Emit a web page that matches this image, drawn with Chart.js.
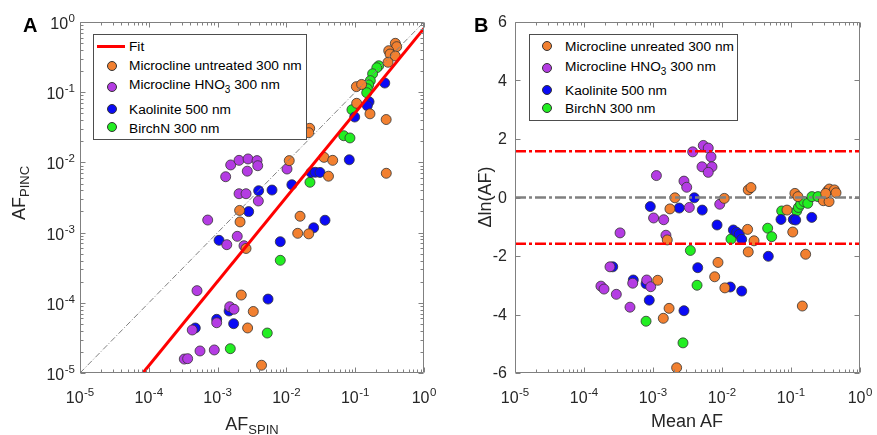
<!DOCTYPE html>
<html>
<head>
<meta charset="utf-8">
<script src="https://cdn.jsdelivr.net/npm/chart.js@4.4.0/dist/chart.umd.min.js"></script>
<style>
  body { margin: 0; width: 877px; height: 435px; background: #fff; overflow: hidden;
         font-family: "Liberation Sans", Arial, sans-serif; }
  canvas { position: absolute; top: 0; }
  #chartA { left: 0; }
  #chartB { left: 440px; }
  .txt { position: absolute; white-space: nowrap; color: #000; }
  .panel { font-weight: bold; font-size: 20px; line-height: 20px; }
  .title { font-size: 18px; line-height: 18px; color: #262626; }
  .title sub { font-size: 13px; line-height: 0; vertical-align: -4px; }
  .tick { position: absolute; white-space: nowrap; font-size: 16px; line-height: 16px; color: #262626; }
  .tick sup { font-size: 11.5px; line-height: 0; vertical-align: 7px; margin-left: 0.5px; }
  .legend { position: absolute; border: 1px solid #4d4d4d; background: #fff; box-sizing: border-box; }
  .legend .row { position: absolute; font-size: 13.7px; line-height: 16px; white-space: nowrap; }
  .legend sub { font-size: 10px; line-height: 0; vertical-align: -4px; }
  .dot { position: absolute; width: 10px; height: 10px; border-radius: 50%; border: 1px solid #333; box-sizing: border-box; }
  .fitline { position: absolute; height: 3px; background: #ff0000; }
</style>
</head>
<body>
<canvas id="chartA" width="440" height="435"></canvas>
<canvas id="chartB" width="437" height="435"></canvas>

<div class="txt panel" style="left:23px;top:15px;">A</div>
<div class="txt panel" style="left:474px;top:15px;">B</div>

<div class="txt title" style="left:252px;top:415px;transform:translateX(-50%);">AF<sub>SPIN</sub></div>
<div class="txt title" style="left:18.5px;top:193px;transform:translate(-50%,-50%) rotate(-90deg);">AF<sub>PINC</sub></div>
<div class="txt title" style="left:687px;top:412px;transform:translateX(-50%);">Mean AF</div>
<div class="txt title" style="left:485px;top:197px;transform:translate(-50%,-50%) rotate(-90deg);">&Delta;ln(AF)</div>

<div id="legendA" class="legend" style="left:93px;top:34px;width:214px;height:106px;"></div>
<div id="legendB" class="legend" style="left:529px;top:34px;width:209px;height:87px;"></div>

<script>
// ---- data ----
const logTicks = [1e-5, 1e-4, 1e-3, 1e-2, 1e-1, 1];
const deltaTicks = [-6, -4, -2, 0, 2, 4, 6];

const labelsA = ['Fit', 'Microcline untreated 300 nm', 'Microcline HNO3 300 nm', 'Kaolinite 500 nm', 'BirchN 300 nm'];
const labelsB = ['Microcline unreated 300 nm', 'Microcline HNO3 300 nm', 'Kaolinite 500 nm', 'BirchN 300 nm'];

// panel A: AF_SPIN vs AF_PINC
const mcUntreatedSpin = [2.09e-3, 2.12e-3, 2.59e-3, 2.21e-3, 3.30e-3, 2.73e-3, 4.35e-3, 1.10e-2, 1.58e-2, 1.46e-2, 2.11e-2, 2.18e-2, 2.11e-2, 3.52e-2, 4.71e-2, 4.09e-2, 0.283, 0.104, 0.124, 0.105, 0.164, 0.282, 0.383, 0.401, 0.307, 0.321, 0.383, 0.300];
const mcUntreatedPinc = [2.07e-3, 1.42e-3, 5.94e-4, 1.29e-4, 7.52e-5, 4.38e-5, 1.29e-5, 1.06e-2, 1.71e-3, 9.77e-4, 9.6e-4, 3.06e-2, 2.65e-2, 1.18e-2, 1.07e-2, 6.36e-3, 7.0e-3, 0.120, 0.129, 6.95e-2, 4.92e-2, 4.08e-2, 0.497, 0.445, 0.390, 0.350, 0.328, 0.267];

const mcHno3Spin = [1.55e-3, 2.05e-3, 2.77e-3, 3.74e-3, 3.83e-3, 2.70e-3, 1.31e-3, 1.02e-2, 2.05e-3, 2.59e-3, 3.91e-3, 7.18e-4, 1.93e-3, 1.36e-3, 2.42e-3, 5.02e-4, 1.50e-3, 1.73e-3, 9.7e-4, 4.28e-4, 5.55e-4, 8.95e-4, 3.28e-4, 3.67e-4];
const mcHno3Pinc = [9.2e-3, 1.07e-2, 1.12e-2, 1.06e-2, 8.97e-3, 7.5e-3, 6.25e-3, 8.05e-3, 3.58e-3, 3.58e-3, 2.82e-3, 1.51e-3, 8.85e-4, 6.73e-4, 6.5e-4, 1.49e-4, 8.8e-5, 8.1e-5, 5.2e-5, 4.1e-5, 2.06e-5, 2.13e-5, 1.58e-5, 1.6e-5];

const kaoSpin = [3.95e-3, 6.18e-3, 1.20e-2, 2.83e-3, 1.05e-3, 8.15e-3, 2.28e-2, 2.63e-2, 3.08e-2, 8.2e-2, 3.64e-2, 2.49e-2, 0.269, 0.159, 0.150, 9.84e-2, 5.41e-3, 1.47e-3, 9.7e-4, 1.71e-3, 4.74e-4];
const kaoPinc = [3.95e-3, 4.04e-3, 4.81e-3, 1.99e-3, 7.76e-4, 7.42e-4, 7.18e-3, 7.23e-3, 7.2e-3, 1.09e-2, 1.50e-3, 1.17e-3, 0.135, 7.32e-2, 6.42e-2, 4.43e-2, 1.13e-4, 7.64e-5, 5.82e-5, 5.04e-5, 4.38e-5];

const birchSpin = [0.220, 0.206, 0.179, 0.166, 0.157, 0.150, 0.147, 8.97e-2, 6.81e-2, 8.39e-2, 2.20e-2, 8.15e-3, 5.27e-3, 1.53e-3];
const birchPinc = [0.238, 0.223, 0.183, 0.146, 0.127, 0.112, 9.84e-2, 5.63e-2, 2.40e-2, 2.23e-2, 5.21e-3, 4.03e-4, 3.71e-5, 2.22e-5];

// fit line and 1:1 line end points
const fitSpin = [8.2e-5, 1];
const fitPinc = [1e-5, 0.81];
const oneToOne = [1e-5, 1];

// panel B: mean AF vs delta ln(AF)
const mcUntreatedMean = [2.08e-3, 1.76e-3, 1.08e-2, 1.61e-3, 1.17e-3, 1.41e-3, 1.71e-3, 2.20e-3, 8.75e-3, 7.83e-3, 1.10e-2, 2.40e-2, 2.63e-2, 0.114, 8.75e-2, 2.35e-2, 2.91e-2, 2.40e-2, 0.106, 0.163, 0.340, 0.359, 0.425, 0.449, 0.294, 0.356, 0.318, 0.126, 0.146];
const mcUntreatedDelta = [-0.01, -0.39, -0.03, -1.45, -2.83, -4.13, -3.79, -5.82, -2.22, -2.71, -3.09, 0.26, 0.34, 0.14, -0.43, -1.09, -1.48, -1.86, -1.18, -1.94, 0.23, 0.29, 0.26, 0.16, -0.11, -0.14, 0.14, 0.03, -3.71];

const mcHno3Mean = [5.36e-3, 6.32e-3, 3.76e-3, 6.93e-3, 5.13e-3, 7.16e-3, 6.32e-3, 1.12e-3, 2.81e-3, 3.08e-3, 3.36e-3, 9.27e-3, 1.02e-3, 1.43e-3, 3.33e-4, 1.54e-3, 2.38e-4, 1.76e-4, 1.95e-4, 2.94e-4, 5.08e-4, 8.11e-4, 9.27e-4, 4.64e-4];
const mcHno3Delta = [1.78, 1.69, 1.56, 1.39, 1.05, 1.05, 0.86, 0.75, 0.56, 0.35, -0.34, -0.23, -0.70, -0.76, -1.21, -1.29, -2.37, -3.03, -3.13, -3.31, -2.93, -2.82, -3.05, -3.75];

const kaoMean = [9.14e-4, 2.40e-3, 3.97e-3, 5.17e-3, 8.48e-3, 1.46e-2, 1.63e-2, 1.78e-2, 1.93e-2, 7.16e-2, 0.108, 0.117, 0.200, 2.61e-4, 5.18e-4, 7.93e-4, 8.83e-4, 2.81e-3, 4.45e-3, 1.32e-2, 1.93e-2, 4.69e-2];
const kaoDelta = [-0.31, -0.36, -0.01, -0.43, -0.94, -1.11, -1.19, -1.26, -1.43, -0.75, -0.75, -0.77, -0.68, -2.37, -2.82, -2.95, -3.51, -3.87, -2.40, -3.06, -3.20, -2.01];

const birchMean = [7.93e-4, 2.72e-3, 3.48e-3, 4.35e-3, 1.35e-2, 4.59e-2, 5.25e-2, 7.33e-2, 0.121, 0.128, 0.138, 0.154, 0.175, 0.201, 0.246];
const birchDelta = [-4.23, -4.97, -1.81, -3.00, -1.42, -1.05, -1.34, -0.46, -0.46, -0.34, -0.23, -0.14, -0.20, 0.03, 0.03];

const meanRange = [1e-5, 1];
const zeroLine = 0;
const limitBand = 1.58;

// ---- styling ----
const colUntreated = '#F28030';
const colHno3 = '#B43CE3';
const colKao = '#0A0AF5';
const colBirch = '#22EE22';

const pts = (xs, ys) => xs.map((x, i) => ({ x: x, y: ys[i] }));

function scatterSet(label, xs, ys, color) {
    return {
        label: label,
        data: pts(xs, ys),
        backgroundColor: color,
        borderColor: '#333333',
        borderWidth: 0.8,
        pointRadius: 5,
        pointHoverRadius: 5,
        showLine: false
    };
}

function lineSet(label, xs, ys, color, width, dash) {
    return {
        label: label,
        data: pts(xs, ys),
        borderColor: color,
        backgroundColor: color,
        borderWidth: width,
        borderDash: dash,
        pointRadius: 0,
        showLine: true,
        fill: false
    };
}

// box around the plot area with inward MATLAB-like ticks
const frame = {
    id: 'frame',
    afterDraw(chart) {
        const { ctx, chartArea: a } = chart;
        const L = Math.round(a.left) + 0.5, R = Math.round(a.right) - 0.5;
        const T = Math.round(a.top) + 0.5, B = Math.round(a.bottom) - 0.5;
        ctx.save();
        ctx.strokeStyle = '#808080';
        ctx.lineWidth = 1;
        ctx.beginPath();
        ctx.rect(L, T, R - L, B - T);
        const tick = (axis, v, len) => {
            const p = Math.round(axis.getPixelForValue(v)) + 0.5;
            if (axis.isHorizontal()) {
                ctx.moveTo(p, B); ctx.lineTo(p, B - len);
                ctx.moveTo(p, T); ctx.lineTo(p, T + len);
            } else {
                ctx.moveTo(L, p); ctx.lineTo(L + len, p);
                ctx.moveTo(R, p); ctx.lineTo(R - len, p);
            }
        };
        [chart.scales.x, chart.scales.y].forEach(axis => {
            axis.ticks.forEach(t => tick(axis, t.value, 5));
            if (axis.type === 'logarithmic') {
                const e0 = Math.round(Math.log10(axis.min)), e1 = Math.round(Math.log10(axis.max));
                for (let e = e0; e < e1; e++) {
                    for (let k = 2; k <= 9; k++) tick(axis, k * Math.pow(10, e), 3);
                }
            }
        });
        ctx.stroke();
        ctx.restore();
    }
};

// tick labels are placed as html text (10 with a raised exponent)
function logAxis(size, horizontal) {
    return {
        type: 'logarithmic',
        min: 1e-5,
        max: 1,
        grid: { display: false, drawTicks: false },
        border: { display: false },
        ticks: { display: false },
        afterBuildTicks: ax => { ax.ticks = logTicks.map(v => ({ value: v })); },
        afterFit: ax => { if (horizontal) ax.height = size; else ax.width = size; }
    };
}

function baseOptions(padRight, xAxis, yAxis) {
    return {
        responsive: false,
        devicePixelRatio: 1,
        animation: false,
        events: [],
        layout: { padding: { left: 0, top: 22, right: padRight, bottom: 0 } },
        plugins: { legend: { display: false }, tooltip: { enabled: false } },
        scales: { x: xAxis, y: yAxis }
    };
}

// Panel A
const chartA = new Chart(document.getElementById('chartA'), {
    type: 'scatter',
    data: {
        datasets: [
            lineSet('1:1', oneToOne, oneToOne, '#808080', 1, [6, 2, 1, 2]),
            lineSet(labelsA[0], fitSpin, fitPinc, '#ff0000', 3, []),
            scatterSet(labelsA[1], mcUntreatedSpin, mcUntreatedPinc, colUntreated),
            scatterSet(labelsA[2], mcHno3Spin, mcHno3Pinc, colHno3),
            scatterSet(labelsA[3], kaoSpin, kaoPinc, colKao),
            scatterSet(labelsA[4], birchSpin, birchPinc, colBirch)
        ]
    },
    options: baseOptions(16, logAxis(62, true), logAxis(80, false)),
    plugins: [frame]
});

// Panel B
const deltaAxis = {
    type: 'linear',
    min: -6,
    max: 6,
    grid: { display: false, drawTicks: false },
    border: { display: false },
    ticks: { display: false },
    afterBuildTicks: ax => { ax.ticks = deltaTicks.map(v => ({ value: v })); },
    afterFit: ax => { ax.width = 75; }
};

const chartB = new Chart(document.getElementById('chartB'), {
    type: 'scatter',
    data: {
        datasets: [
            lineSet('upper', meanRange, [limitBand, limitBand], '#ff0000', 2.5, [11, 3, 3, 3]),
            lineSet('lower', meanRange, [-limitBand, -limitBand], '#ff0000', 2.5, [11, 3, 3, 3]),
            lineSet('zero', meanRange, [zeroLine, zeroLine], '#808080', 2.5, [11, 3, 3, 3]),
            scatterSet(labelsB[0], mcUntreatedMean, mcUntreatedDelta, colUntreated),
            scatterSet(labelsB[1], mcHno3Mean, mcHno3Delta, colHno3),
            scatterSet(labelsB[2], kaoMean, kaoDelta, colKao),
            scatterSet(labelsB[3], birchMean, birchDelta, colBirch)
        ]
    },
    options: baseOptions(17, logAxis(62, true), deltaAxis),
    plugins: [frame]
});

// ---- tick labels from the chart scales ----
function addText(cls, html) {
    const d = document.createElement('div');
    d.className = cls;
    d.innerHTML = html;
    document.body.appendChild(d);
    return d;
}

function powLabel(v) {
    return '10<sup>' + Math.round(Math.log10(v)) + '</sup>';
}

function placeTickLabels(chart, pageLeft, yLog, yGap) {
    const a = chart.chartArea;
    const xs = chart.scales.x, ys = chart.scales.y;
    xs.ticks.forEach(t => {
        const d = addText('tick', powLabel(t.value));
        d.style.left = (pageLeft + xs.getPixelForValue(t.value)) + 'px';
        d.style.top = (a.bottom + 16.5) + 'px';
        d.style.transform = 'translateX(-50%)';
    });
    ys.ticks.forEach(t => {
        const py = ys.getPixelForValue(t.value);
        const d = addText('tick', yLog ? powLabel(t.value) : String(t.value));
        d.style.right = (877 - (pageLeft + a.left - yGap)) + 'px';
        d.style.top = (yLog ? py - 6 : py - 8) + 'px';
    });
}

placeTickLabels(chartA, 0, true, 5);
placeTickLabels(chartB, 440, false, 8);

// ---- legends (html boxes inside the plot areas) ----
function htmlLabel(s) {
    return s.replace('HNO3', 'HNO<sub>3</sub>');
}

function buildLegend(id, boxLeft, boxTop, rows) {
    const box = document.getElementById(id);
    rows.forEach(r => {
        if (r.line) {
            const ln = document.createElement('div');
            ln.className = 'fitline';
            ln.style.left = (r.mx - 14 - boxLeft) + 'px';
            ln.style.width = '28px';
            ln.style.top = (r.my - 1.5 - boxTop) + 'px';
            box.appendChild(ln);
        } else {
            const d = document.createElement('div');
            d.className = 'dot';
            d.style.background = r.color;
            d.style.left = (r.mx - 5 - boxLeft) + 'px';
            d.style.top = (r.my - 5 - boxTop) + 'px';
            box.appendChild(d);
        }
        const t = document.createElement('div');
        t.className = 'row';
        t.innerHTML = htmlLabel(r.label);
        t.style.left = (r.tx - boxLeft) + 'px';
        t.style.top = (r.ty - 8 - boxTop) + 'px';
        box.appendChild(t);
    });
}

buildLegend('legendA', 94, 35, [
    { label: labelsA[0], line: true, mx: 111, my: 46.5, tx: 129, ty: 46.7 },
    { label: labelsA[1], color: colUntreated, mx: 111.7, my: 65.7, tx: 129, ty: 66 },
    { label: labelsA[2], color: colHno3, mx: 111.7, my: 86.7, tx: 129, ty: 85 },
    { label: labelsA[3], color: colKao, mx: 111.7, my: 108.5, tx: 129, ty: 110 },
    { label: labelsA[4], color: colBirch, mx: 111.7, my: 127.3, tx: 129, ty: 129 }
]);

buildLegend('legendB', 530, 35, [
    { label: labelsB[0], color: colUntreated, mx: 546.7, my: 45.7, tx: 565, ty: 46.7 },
    { label: labelsB[1], color: colHno3, mx: 546.7, my: 68.3, tx: 565, ty: 66.7 },
    { label: labelsB[2], color: colKao, mx: 546.7, my: 90, tx: 565, ty: 91 },
    { label: labelsB[3], color: colBirch, mx: 546.7, my: 108.3, tx: 565, ty: 109 }
]);
</script>
</body>
</html>
